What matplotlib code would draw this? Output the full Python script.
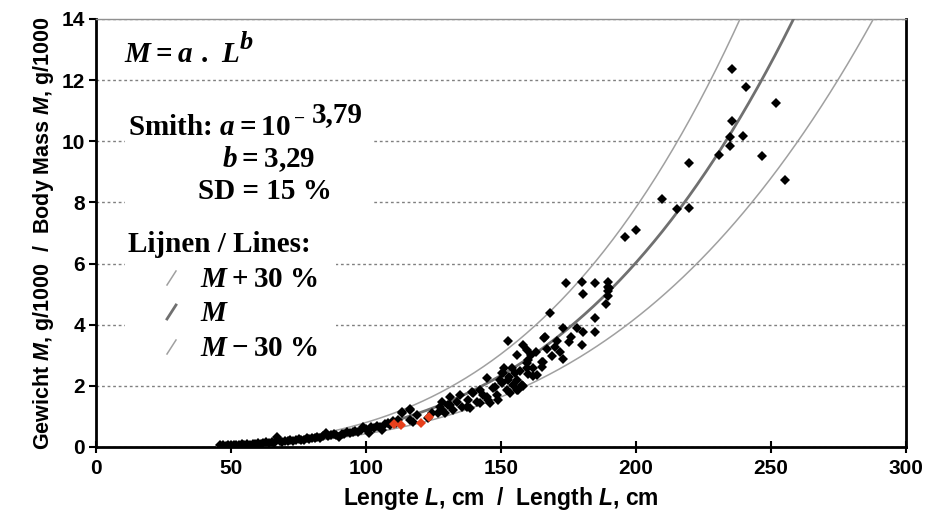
import numpy as np
import matplotlib
matplotlib.use("Agg")
import matplotlib.pyplot as plt
from matplotlib.patches import Rectangle

# model parameters (Smith)
a_exp = -3.79
b_exp = 3.29

# measured fish: length (cm) and mass (g/1000)
length = [46, 47, 48, 49, 50, 51, 52, 53, 54, 55, 56, 57, 58, 59, 60, 61, 62, 63, 64, 65,
          66, 67, 68, 69, 70, 71, 72, 73, 74, 75, 76, 77, 78, 79, 80, 81, 82, 83, 84, 85,
          86, 87, 88, 89, 90, 91, 92, 93, 94, 95, 96, 97, 98, 99, 100, 101, 102, 103, 104, 105,
          106, 107, 108, 109, 110, 111, 112,
          113.3, 116.3, 113.3, 116.3, 117.4, 119, 116.3, 123, 124.4, 126.7, 128, 127.4, 128, 129.3,
          131.1, 130.4, 131.1, 132.2, 133.7, 134.8, 135.6, 137.4, 137.8, 138.5, 139.3, 139.6, 141.1,
          142.2, 142.2, 143.3, 144.8, 144.8, 145.2, 145.9, 147, 147.8, 148.5, 148.9, 149.6, 150.4,
          150.4, 150.7, 152.2, 152.6, 153.3, 154.4, 155.2, 155.9, 156.3,
          153, 156, 157, 154, 151, 158, 160, 162, 161, 163, 167, 172, 176, 178,
          152.6, 155.9, 158, 159.6, 159.6, 159.6, 160, 161.9, 163.3, 165, 165, 165.6, 166, 166.3,
          157.8, 168, 168.9, 170, 170.7, 173, 173, 175.2, 174, 180, 180.4, 180.4, 180, 184.8, 184.8,
          184.8, 189.6, 189.6, 189.6, 189.6, 190, 188.9,
          195.9, 200, 209.6, 215.2, 219.6, 219.6, 230.7, 234.8, 234.8, 239.6, 235.6, 235.6, 240.7,
          251.9, 246.7, 255.2]
mass = [0.05, 0.06, 0.04, 0.07, 0.05, 0.08, 0.06, 0.07, 0.09, 0.07, 0.10, 0.08, 0.11, 0.09, 0.13,
        0.11, 0.12, 0.15, 0.13, 0.17, 0.14, 0.33, 0.18, 0.16, 0.21, 0.18, 0.23, 0.20, 0.22, 0.26,
        0.23, 0.24, 0.29, 0.27, 0.31, 0.28, 0.33, 0.30, 0.37, 0.46, 0.35, 0.38, 0.41, 0.39, 0.33,
        0.44, 0.42, 0.48, 0.45, 0.50, 0.53, 0.49, 0.56, 0.65, 0.60, 0.46, 0.64, 0.62, 0.70, 0.67,
        0.56, 0.74, 0.78, 0.72, 0.85, 0.80, 0.88,
        1.15, 1.21, 1.11, 1.24, 0.82, 1.05, 0.88, 0.95, 1.11, 1.11, 1.21, 1.31, 1.47, 1.11,
        1.64, 1.37, 1.37, 1.21, 1.47, 1.70, 1.31, 1.31, 1.54, 1.28, 1.80, 1.77, 1.47,
        1.86, 1.44, 1.70, 1.64, 2.26, 1.54, 1.44, 1.93, 1.96, 1.70, 1.54, 2.19, 2.42,
        2.09, 2.42, 1.86, 2.19, 1.77, 2.03, 2.42, 1.86, 1.86,
        2.30, 2.20, 2.50, 2.60, 2.60, 2.00, 2.40, 2.60, 3.00, 3.10, 3.20, 3.10, 3.60, 3.90,
        3.47, 3.00, 3.34, 3.17, 2.75, 2.58, 2.85, 2.32, 2.36, 2.78, 2.62, 2.78, 3.57, 3.60,
        2.03, 4.38, 2.98, 3.27, 3.47, 3.89, 2.88, 3.43, 5.36, 5.40, 5.00, 3.76, 3.34, 5.36, 4.22,
        3.76, 5.40, 5.25, 5.10, 4.95, 5.20, 4.68,
        6.87, 7.10, 8.11, 7.79, 7.82, 9.29, 9.55, 9.85, 10.14, 10.17, 10.66, 12.37, 11.78,
        11.25, 9.52, 8.73]

# the few fish marked in red
red_length = [110.5, 113, 120.5, 123.3]
red_mass = [0.74, 0.72, 0.80, 0.98]

plt.rcParams['mathtext.fontset'] = 'custom'
plt.rcParams['mathtext.rm'] = 'Liberation Serif:bold'
plt.rcParams['mathtext.bf'] = 'Liberation Serif:bold'
plt.rcParams['mathtext.bfit'] = 'Liberation Serif:italic:bold'
plt.rcParams['mathtext.it'] = 'Liberation Sans:italic:bold'
plt.rcParams['mathtext.sf'] = 'Liberation Sans:bold'

W, H = 927, 525
fig = plt.figure(figsize=(W / 100, H / 100), dpi=100)
ax = fig.add_axes([96 / W, 1 - 447 / H, (906 - 96) / W, (447 - 19) / H])


def fx(px):
    return px / W


def fy(py):
    return 1 - py / H


# model curves
L = np.linspace(45, 300, 400)
M = 10 ** a_exp * L ** b_exp / 1000
ax.plot(L, 1.3 * M, color='#a0a0a0', lw=1.1, zorder=3)
ax.plot(L, M, color='#707070', lw=2.0, zorder=3)
ax.plot(L, 0.7 * M, color='#a0a0a0', lw=1.1, zorder=3)

ax.plot(length, mass, 'D', color='black', ms=5, mew=0, zorder=4)
ax.plot(red_length, red_mass, 'D', color='#e8401c', ms=5, mew=0, zorder=5)

ax.set_xlim(0, 300)
ax.set_ylim(0, 14)
ax.set_xticks(range(0, 301, 50))
ax.set_yticks(range(0, 15, 2))
ax.yaxis.grid(True, color='#808080', lw=1, ls=(0, (2, 2)))
ax.set_axisbelow(True)

for s in ['left', 'bottom', 'right']:
    ax.spines[s].set_linewidth(2)
    ax.spines[s].set_color('black')
ax.spines['top'].set_color('#909090')
ax.spines['top'].set_linewidth(1)

tick_font = dict(family='Liberation Sans', weight='bold', size=15)
ax.tick_params(axis='x', direction='inout', length=9, width=1.5, pad=4)
ax.tick_params(axis='y', direction='out', length=5, width=1.5, pad=3)
for lab in ax.get_xticklabels() + ax.get_yticklabels():
    lab.set_fontproperties(tick_font)

ax.set_xlabel(r'Lengte $L$, cm  /  Length $L$, cm', family='Liberation Sans',
              weight='bold', size=16.5, labelpad=5)
ax.set_ylabel(r'Gewicht $M$, g/1000  /  Body Mass $M$, g/1000', family='Liberation Sans',
              weight='bold', size=15.5, labelpad=4)

# white boxes behind the annotation blocks
ax.add_patch(Rectangle((fx(125), fy(218)), fx(372) - fx(125), fy(96) - fy(218),
                       transform=fig.transFigure, facecolor='white', edgecolor='none', zorder=2))
ax.add_patch(Rectangle((fx(125), fy(365)), fx(336) - fx(125), fy(225) - fy(365),
                       transform=fig.transFigure, facecolor='white', edgecolor='none', zorder=2))

serif = dict(family='Liberation Serif', weight='bold', size=21, zorder=6)
fig.text(fx(124), fy(62), r'$\mathbfit{M} = \mathbfit{a}\ .\ \mathbfit{L}$',
         ha='left', va='baseline', **serif)
fig.text(fx(240), fy(49), 'b', ha='left', va='baseline', style='italic',
         family='Liberation Serif', weight='bold', size=19, zorder=6)
fig.text(fx(128), fy(135), r'Smith: $\mathbfit{a} = 10$', ha='left', va='baseline', **serif)
fig.text(fx(294), fy(124), '\u2212', ha='left', va='baseline',
         family='Liberation Serif', weight='bold', size=14, zorder=6)
fig.text(fx(312), fy(122), '3,79', ha='left', va='baseline',
         family='Liberation Serif', weight='bold', size=21, zorder=6)
fig.text(fx(222), fy(167), r'$\mathbfit{b} = 3{,}29$', ha='left', va='baseline', **serif)
fig.text(fx(198), fy(199), 'SD = 15 %', ha='left', va='baseline', **serif)
fig.text(fx(128), fy(252), 'Lijnen / Lines:', ha='left', va='baseline', **serif)
fig.text(fx(200), fy(287), r'$\mathbfit{M} + 30$ %', ha='left', va='baseline', **serif)
fig.text(fx(200), fy(321), r'$\mathbfit{M}$', ha='left', va='baseline', **serif)
fig.text(fx(200), fy(356), r'$\mathbfit{M} - 30$ %', ha='left', va='baseline', **serif)

# line keys
for py, col, lw in [(278, '#a0a0a0', 1.1), (312, '#707070', 2.0), (347, '#a0a0a0', 1.1)]:
    fig.add_artist(plt.Line2D([fx(167), fx(176)], [fy(py + 7), fy(py - 7)],
                              color=col, lw=lw, transform=fig.transFigure))

fig.savefig('out.png', dpi=100)
